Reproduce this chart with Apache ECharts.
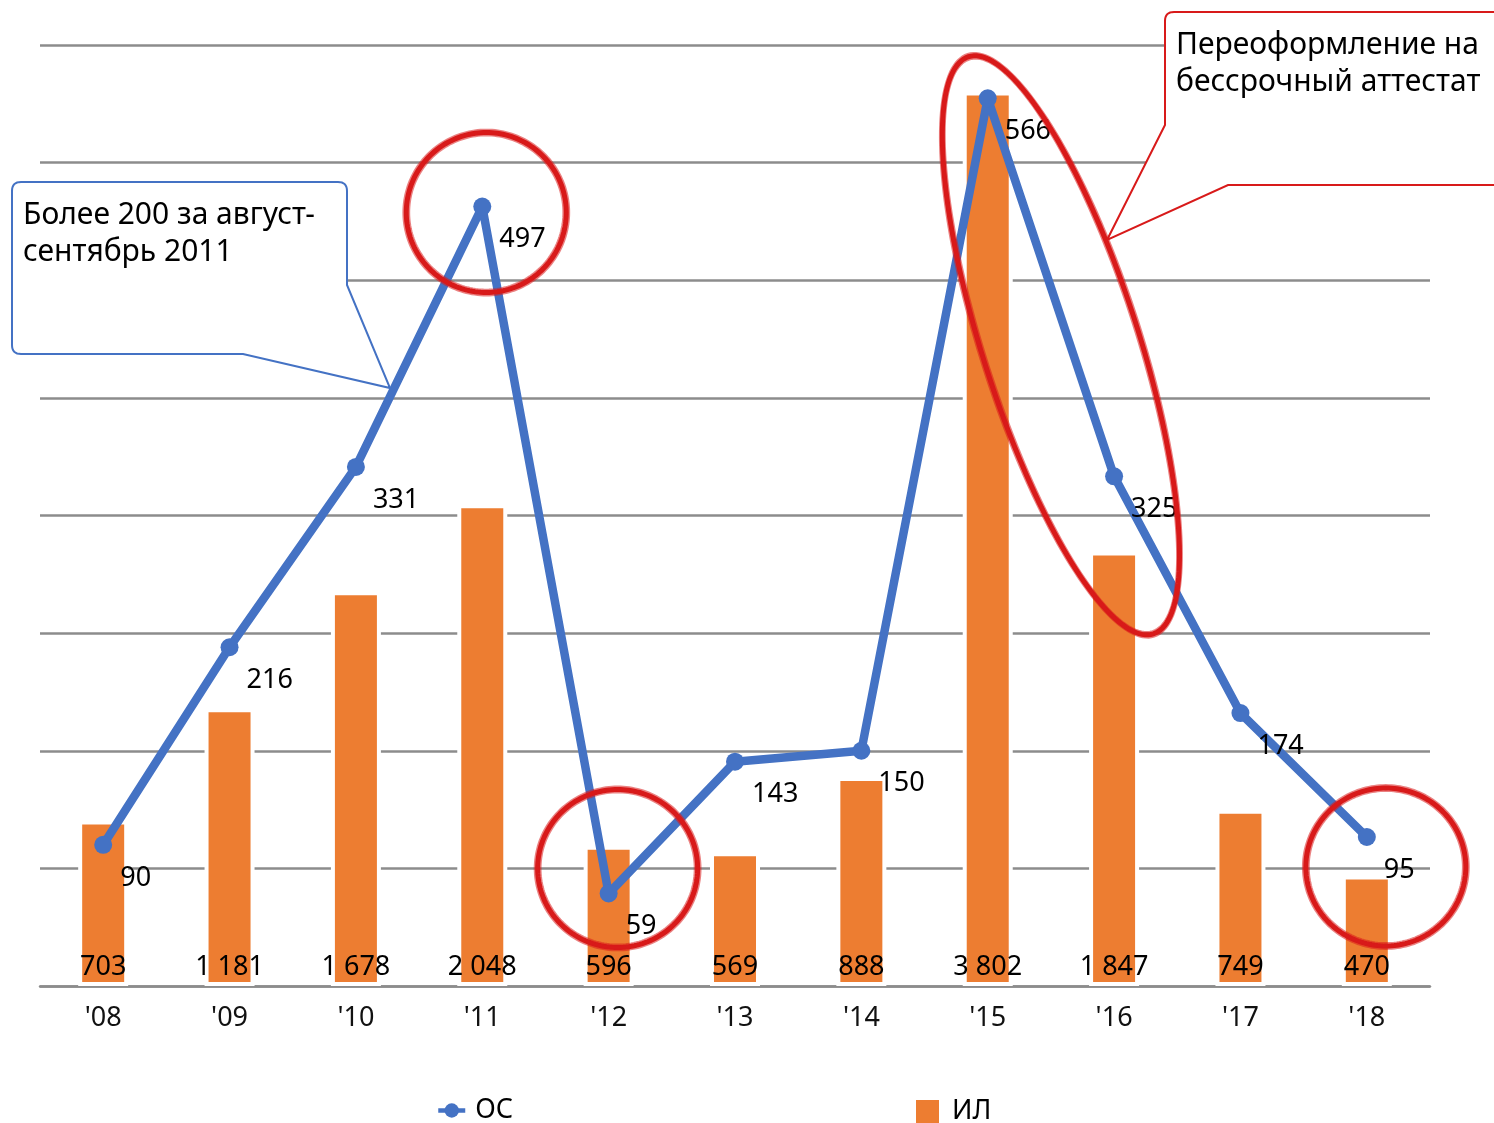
<!DOCTYPE html>
<html><head><meta charset="utf-8">
<script src="https://cdn.jsdelivr.net/npm/echarts@6/dist/echarts.min.js"></script>
<style>html,body{margin:0;padding:0;background:#fff}#c{width:1494px;height:1123px}</style>
</head><body><div id="c"></div>
<script>
const categories = ["'08","'09","'10","'11","'12","'13","'14","'15","'16","'17","'18"];
const osValues = [90, 216, 331, 497, 59, 143, 150, 566, 325, 174, 95];
const ilValues = [703, 1181, 1678, 2048, 596, 569, 888, 3802, 1847, 749, 470];
const seriesNames = ['ОС', 'ИЛ'];
const barAxisRange = [0, 4000, 500];
const lineAxisRange = [0, 600, 75];
const callout1Lines = ['Более 200 за август-', 'сентябрь 2011'];
const callout2Lines = ['Переоформление на', 'бессрочный аттестат'];

const FONT = "'Noto Sans', sans-serif";
const BLUE = '#4472C4', ORANGE = '#ED7D31', RED = '#D81A1A', GRID = '#8C8C8C';

const fmt = v => String(v).replace(/\B(?=(\d{3})+(?!\d))/g, '\u00A0');

const chart = echarts.init(document.getElementById('c'), null, {renderer: 'canvas'});
chart.setOption({
  animation: false,
  backgroundColor: '#fff',
  grid: {left: 40, right: 64, top: 45, bottom: 137, containLabel: false},
  legend: [
    {data: [seriesNames[0]], left: 431, top: 1092, itemWidth: 27, itemHeight: 18,
     lineStyle: {width: 4.5},
     textStyle: {fontFamily: FONT, fontSize: 27, color: '#000', padding: [0, 0, 0, 5]}},
    {data: [{name: seriesNames[1], icon: 'rect'}], left: 909, top: 1093, itemWidth: 25, itemHeight: 25,
     textStyle: {fontFamily: FONT, fontSize: 27, color: '#000', padding: [0, 0, 0, 7]}}
  ],
  xAxis: {
    type: 'category', data: categories,
    axisLine: {show: true, lineStyle: {color: GRID, width: 2.5}},
    axisTick: {show: false},
    axisLabel: {fontFamily: FONT, fontSize: 27, color: '#111', margin: 19}
  },
  yAxis: [
    {type: 'value', min: barAxisRange[0], max: barAxisRange[1], interval: barAxisRange[2],
     axisLabel: {show: false}, axisLine: {show: false}, axisTick: {show: false},
     splitLine: {show: true, lineStyle: {color: GRID, width: 2.5}}},
    {type: 'value', min: lineAxisRange[0], max: lineAxisRange[1], interval: lineAxisRange[2],
     axisLabel: {show: false}, axisLine: {show: false}, axisTick: {show: false},
     splitLine: {show: false}}
  ],
  series: [
    {
      name: seriesNames[0], type: 'line', yAxisIndex: 1, data: osValues, z: 5,
      symbol: 'circle', symbolSize: 18,
      lineStyle: {color: BLUE, width: 8.5}, itemStyle: {color: BLUE},
      label: {show: true, position: 'right', distance: 8, offset: [0, 33],
              fontFamily: FONT, fontSize: 27, color: '#000'}
    },
    {
      name: seriesNames[1], type: 'bar', yAxisIndex: 0, data: ilValues, z: 2,
      barWidth: 50,
      itemStyle: {color: ORANGE, borderColor: '#fff', borderWidth: 4},
      label: {show: true, position: 'insideBottom', distance: 5,
              fontFamily: FONT, fontSize: 27, color: '#000',
              formatter: p => fmt(p.value)}
    }
  ]
});

function px(i) { return chart.convertToPixel({seriesIndex: 0}, [i, osValues[i]]); }

// rounded polygon: verts = [[x,y,r], ...]
function roundedPoints(verts) {
  const out = [];
  const n = verts.length;
  for (let i = 0; i < n; i++) {
    const [x, y, r] = verts[i];
    if (!r) { out.push([x, y]); continue; }
    const p0 = verts[(i - 1 + n) % n], p2 = verts[(i + 1) % n];
    const u = (a) => { const dx = a[0] - x, dy = a[1] - y, l = Math.hypot(dx, dy); return [dx / l, dy / l]; };
    const u0 = u(p0), u2 = u(p2);
    const A = [x + u0[0] * r, y + u0[1] * r], B = [x + u2[0] * r, y + u2[1] * r];
    for (let k = 0; k <= 8; k++) {
      const t = k / 8, s = 1 - t;
      out.push([s * s * A[0] + 2 * s * t * x + t * t * B[0], s * s * A[1] + 2 * s * t * y + t * t * B[1]]);
    }
  }
  return out;
}

function ellPoints(cx, cy, rx, ry, rot) {
  const pts = [], c = Math.cos(rot), s = Math.sin(rot);
  for (let k = 0; k < 180; k++) {
    const t = k / 180 * Math.PI * 2;
    const x = rx * Math.cos(t), y = ry * Math.sin(t);
    pts.push([cx + x * c + y * s, cy - x * s + y * c]);
  }
  return pts;
}

function brushRing(cx, cy, rx, ry, rot) {
  const out = [];
  const layers = [[0, 5, 1], [3, 1.8, 0.55], [-3, 1.8, 0.55], [1.5, 1.2, 0.8], [-1.5, 1.2, 0.8]];
  layers.forEach(([d, w, o]) => {
    out.push({type: 'polygon', z: 100,
      shape: {points: ellPoints(cx, cy, rx + d, ry + d, rot || 0)},
      style: {fill: 'none', stroke: RED, lineWidth: w, opacity: o}});
  });
  return out;
}

const p11 = px(3), p12 = px(4), p15 = px(7), p16 = px(8), p18 = px(10);
const mid = [(p15[0] + p16[0]) / 2, (p15[1] + p16[1]) / 2];

const textEl = (t, x, y) => ({type: 'text', x, y, z: 110,
  style: {text: t, fontFamily: FONT, fontSize: 30, fill: '#000', verticalAlign: 'middle'}});

const graphics = [
  {type: 'polygon', z: 105,
   shape: {points: roundedPoints([[12, 182, 9], [347, 182, 9], [347, 285, 0], [390, 388, 0], [243, 354, 0], [12, 354, 9]])},
   style: {fill: '#fff', stroke: BLUE, lineWidth: 2}},
  textEl(callout1Lines[0], 23, 215),
  textEl(callout1Lines[1], 23, 252),
  {type: 'polygon', z: 105,
   shape: {points: roundedPoints([[1165, 12, 9], [1510, 12, 0], [1510, 185, 0], [1228, 185, 0], [1107, 240, 0], [1165, 125, 0]])},
   style: {fill: '#fff', stroke: RED, lineWidth: 2}},
  textEl(callout2Lines[0], 1176, 45),
  textEl(callout2Lines[1], 1176, 82)
].concat(
  brushRing(p11[0] + 4, p11[1] + 6, 80, 80, 0),
  brushRing(p12[0] + 9, p12[1] - 25, 80, 79, 0),
  brushRing(p18[0] + 19, p18[1] + 30, 80, 79, 0),
  brushRing(mid[0] + 10, mid[1] + 58, 78, 303, 0.31)
);

chart.setOption({graphic: {elements: graphics}});
</script>
</body></html>
